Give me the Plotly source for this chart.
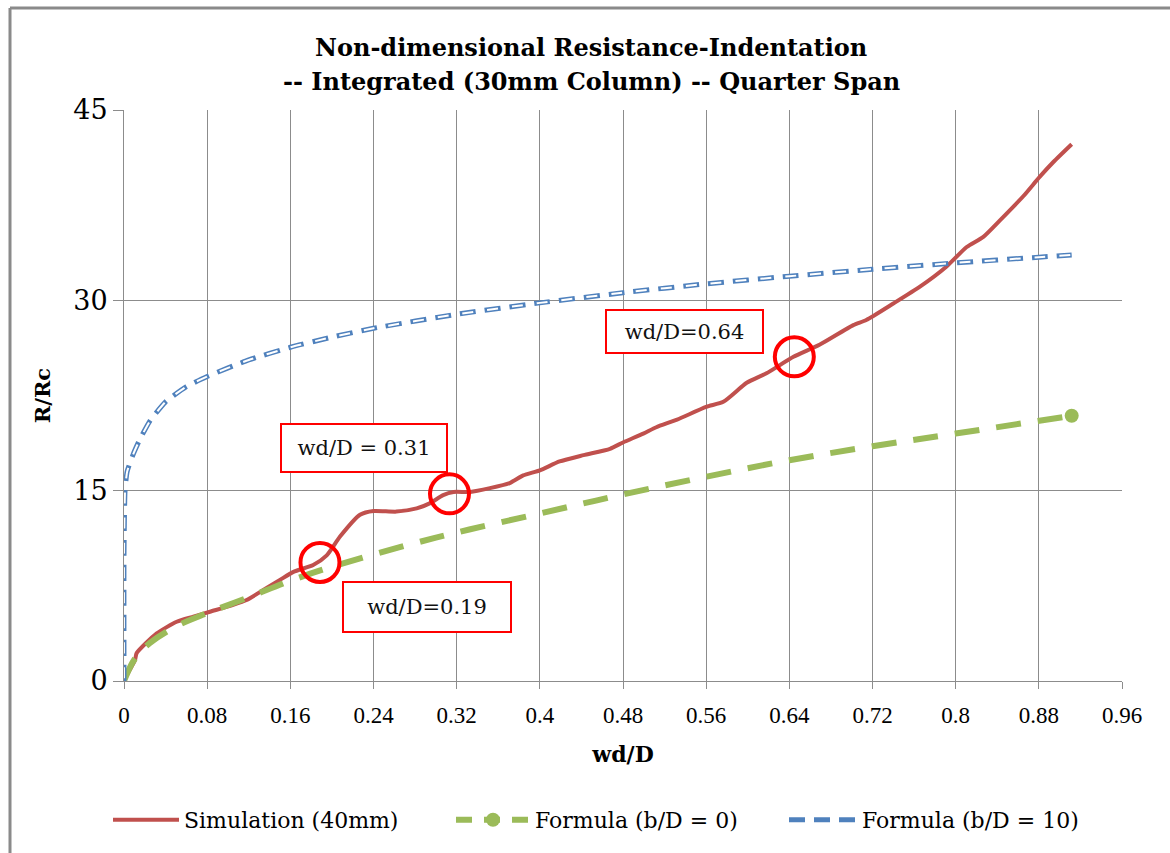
import plotly.graph_objects as go

# ---- data -------------------------------------------------------------
sim_x = [0, 0.005, 0.0106, 0.0122, 0.0315, 0.0507, 0.0667, 0.0827, 0.105, 0.118,
         0.134, 0.150, 0.163, 0.182, 0.195, 0.208, 0.227, 0.240, 0.262, 0.2815,
         0.294, 0.307, 0.317, 0.333, 0.352, 0.371, 0.384, 0.400, 0.419, 0.442,
         0.4675, 0.480, 0.4995, 0.512, 0.532, 0.560, 0.5765, 0.599, 0.618, 0.644,
         0.669, 0.7015, 0.714, 0.740, 0.766, 0.791, 0.8106, 0.8266, 0.8426, 0.865,
         0.881, 0.894, 0.9116]
sim_y = [0, 0.8, 1.65, 2.2, 3.75, 4.67, 5.07, 5.46, 6.0, 6.38,
         7.17, 7.96, 8.6, 9.14, 9.9, 11.4, 13.1, 13.4, 13.35, 13.6,
         14.0, 14.65, 14.9, 14.9, 15.2, 15.6, 16.2, 16.6, 17.3, 17.8,
         18.3, 18.8, 19.5, 20.0, 20.6, 21.6, 22.0, 23.5, 24.25, 25.55,
         26.5, 28.05, 28.45, 29.75, 31.1, 32.65, 34.2, 35.0, 36.3, 38.2,
         39.75, 40.9, 42.3]

f0_x = [0, 0.01, 0.025, 0.05, 0.08, 0.12, 0.16, 0.20, 0.30, 0.40,
        0.48, 0.56, 0.64, 0.72, 0.80, 0.9116]
f0_y = [0, 1.7, 3.0, 4.3, 5.35, 6.6, 7.9, 9.0, 11.3, 13.2,
        14.7, 16.1, 17.4, 18.5, 19.5, 20.9]

f10_x = [0, 0, 0.001, 0.003, 0.009, 0.015, 0.025, 0.04, 0.06, 0.08,
         0.12, 0.16, 0.20, 0.24, 0.32, 0.40, 0.48, 0.56, 0.64, 0.72,
         0.80, 0.88, 0.9116]
f10_y = [0, 10, 15, 16.5, 17.9, 19.0, 20.5, 22.0, 23.2, 24.0,
         25.3, 26.3, 27.1, 27.8, 28.9, 29.8, 30.6, 31.3, 31.9, 32.45,
         32.95, 33.4, 33.57]

series_names = ["Simulation (40mm)", "Formula (b/D = 0)", "Formula (b/D = 10)"]
title_lines = ["Non-dimensional Resistance-Indentation",
               "-- Integrated (30mm Column) -- Quarter Span"]

x_ticks = [0, 0.08, 0.16, 0.24, 0.32, 0.40, 0.48, 0.56, 0.64, 0.72, 0.80, 0.88, 0.96]
x_tick_text = ["0", "0.08", "0.16", "0.24", "0.32", "0.4", "0.48", "0.56",
               "0.64", "0.72", "0.8", "0.88", "0.96"]
y_ticks = [0, 15, 30, 45]
y_tick_text = ["0", "15", "30", "45"]

# highlighted points on the simulation curve and their labels
mark_x = [0.1885, 0.3131, 0.6448]
mark_y = [9.34, 14.75, 25.55]
label_text = ["wd/D=0.19", "wd/D = 0.31", "wd/D=0.64"]
label_x = [0.2912, 0.2309, 0.5391]
label_y = [5.83, 18.36, 27.53]

# ---- styling ----------------------------------------------------------
RED = "#C0504D"
GREEN = "#9BBB59"
BLUE = "#4F81BD"
GRID = "#8C8C8C"
SERIF = "DejaVu Serif"
NARROW = "Liberation Serif"

W, H = 1170, 853
ML, MR, MT, MB = 124, 48, 110, 172
PW, PH = W - ML - MR, H - MT - MB


def px_to_paper(px, py):
    """Page pixel position -> paper coordinates of the plot area."""
    return (px - ML) / PW, (H - MB - py) / PH


fig = go.Figure()

fig.add_trace(go.Scatter(x=sim_x, y=sim_y, mode="lines", name=series_names[0],
                         legend="legend",
                         line=dict(color=RED, width=4, shape="spline", smoothing=0.6)))

fig.add_trace(go.Scatter(x=f0_x, y=f0_y, mode="lines", name=series_names[1],
                         legendgroup="f0", showlegend=False,
                         line=dict(color=GREEN, width=6, dash="25px,17px", shape="spline")))
fig.add_trace(go.Scatter(x=[f0_x[-1]], y=[f0_y[-1]], mode="markers", legendgroup="f0",
                         showlegend=False, marker=dict(color=GREEN, size=14)))
fig.add_trace(go.Scatter(x=[None], y=[None], mode="lines+markers", name=series_names[1],
                         legendgroup="f0", legend="legend2",
                         line=dict(color=GREEN, width=6, dash="16px,12px"),
                         marker=dict(color=GREEN, size=14)))

# double-stroked dashed line: blue dashes with a white core
fig.add_trace(go.Scatter(x=f10_x, y=f10_y, mode="lines", name=series_names[2],
                         legend="legend3",
                         line=dict(color=BLUE, width=5, dash="16px,9px", shape="spline",
                                   smoothing=0.5)))
fig.add_trace(go.Scatter(x=f10_x, y=f10_y, mode="lines", showlegend=False, hoverinfo="skip",
                         line=dict(color="white", width=2, dash="0px,2.5px,11px,11.5px",
                                   shape="spline", smoothing=0.5)))

shapes = []
for cx, cy in zip(mark_x, mark_y):
    shapes.append(dict(type="circle", xref="x", yref="y", xsizemode="pixel",
                       ysizemode="pixel", xanchor=cx, yanchor=cy,
                       x0=-19.5, x1=19.5, y0=-19.5, y1=19.5,
                       line=dict(color="#FF0000", width=4)))

# outer chart frame (top and left edges)
fl, ft = px_to_paper(10, 8)
fr, fb = px_to_paper(1175, 860)
shapes.append(dict(type="line", xref="paper", yref="paper", x0=fl, x1=fl, y0=fb, y1=ft,
                   line=dict(color="#8A8A8A", width=3)))
shapes.append(dict(type="line", xref="paper", yref="paper", x0=fl, x1=fr, y0=ft, y1=ft,
                   line=dict(color="#8A8A8A", width=3)))

annotations = []
box_w = [166, 164, 155]
box_h = [48, 46, 41]
for t, ax_, ay_, w, h in zip(label_text, label_x, label_y, box_w, box_h):
    annotations.append(dict(x=ax_, y=ay_, xref="x", yref="y", text=t, showarrow=False,
                            width=w, height=h, align="center", valign="middle",
                            bgcolor="white", bordercolor="#FF0000", borderwidth=2,
                            borderpad=0, font=dict(family=SERIF, size=21, color="#111")))

# two-line chart title
for line, ypx in zip(title_lines, [48, 82]):
    tx, ty = px_to_paper(591, ypx)
    annotations.append(dict(x=tx, y=ty, xref="paper", yref="paper",
                            text="<b>" + line + "</b>", showarrow=False,
                            xanchor="center", yanchor="middle",
                            font=dict(family=SERIF, size=24, color="#000")))


def legend_box(left_px, sample_px):
    return dict(orientation="h", xref="container", yref="container",
                x=left_px / W, xanchor="left", y=1 - 820 / H, yanchor="middle",
                font=dict(family=SERIF, size=22, color="#000"),
                itemwidth=sample_px, bgcolor="rgba(0,0,0,0)")


fig.update_layout(
    width=W, height=H,
    margin=dict(l=ML, r=MR, t=MT, b=MB, autoexpand=False),
    paper_bgcolor="white", plot_bgcolor="white",
    font=dict(family=SERIF, color="#000"),
    shapes=shapes, annotations=annotations,
    legend=legend_box(108, 66),
    legend2=legend_box(451, 74),
    legend3=legend_box(784, 68),
    showlegend=True,
)

fig.update_xaxes(range=[0, 0.96], tickvals=x_ticks, ticktext=x_tick_text,
                 showgrid=True, gridcolor=GRID, gridwidth=1,
                 showline=True, linecolor=GRID, linewidth=1,
                 ticks="outside", ticklen=7, tickcolor=GRID,
                 tickfont=dict(family=NARROW, size=23), ticklabelstandoff=6,
                 zeroline=False,
                 title=dict(text="<b>wd/D</b>", font=dict(family=SERIF, size=22), standoff=20))
fig.update_yaxes(range=[0, 45], tickvals=y_ticks, ticktext=y_tick_text,
                 showgrid=True, gridcolor=GRID, gridwidth=1,
                 showline=True, linecolor=GRID, linewidth=1,
                 ticks="outside", ticklen=10, tickcolor=GRID,
                 tickfont=dict(family=SERIF, size=27), zeroline=False,
                 title=dict(text="<b>R/Rc</b>", font=dict(family=SERIF, size=21), standoff=16))

fig.write_html("out.html")
